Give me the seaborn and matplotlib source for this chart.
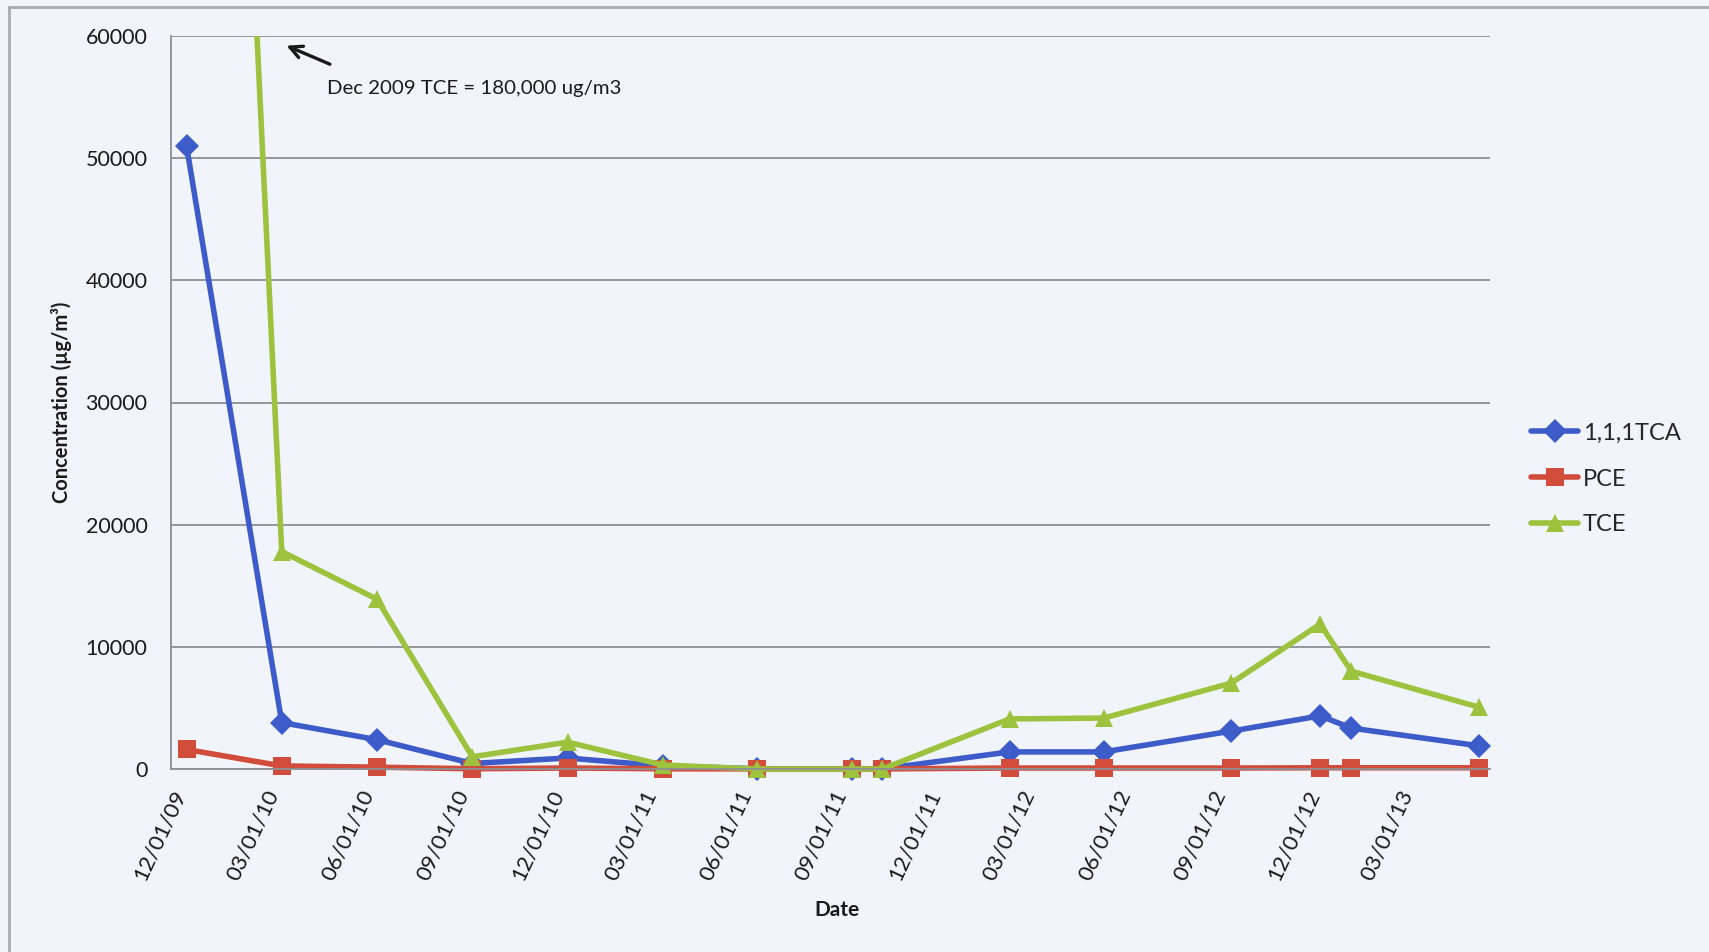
import matplotlib
matplotlib.use("Agg")
import matplotlib.pyplot as plt
import matplotlib.dates as mdates
from matplotlib.lines import Line2D
from matplotlib.patches import Rectangle
import numpy as np
import pandas as pd
import seaborn as sns

# Sampling dates and measured concentrations (ug/m3)
dates = ["2009-12-16", "2010-03-18", "2010-06-18", "2010-09-18", "2010-12-19",
         "2011-03-21", "2011-06-20", "2011-09-20", "2011-10-19", "2012-02-19",
         "2012-05-20", "2012-09-20", "2012-12-15", "2013-01-14", "2013-05-17"]
tca = [51000, 3800, 2400, 450, 900, 250, 20, 10, 10, 1400, 1400, 3100, 4350, 3350, 1900]
pce = [1600, 250, 150, 20, 80, 20, 10, 10, 10, 80, 80, 80, 100, 100, 100]
tce = [180000, 17800, 13900, 1000, 2200, 330, 0, 0, 0, 4100, 4170, 7030, 11860, 8010, 5070]

series_names = ["1,1,1TCA", "PCE", "TCE"]
series_values = [tca, pce, tce]
series_colors = ["#3d5cc9", "#d24c3b", "#9dc23d"]
series_markers = ["D", "s", "^"]
marker_sizes = [12, 13, 13]

y_ticks = [0, 10000, 20000, 30000, 40000, 50000, 60000]
annotation_text = "Dec 2009 TCE = 180,000 ug/m3"

sns.set_theme(style="white")
plt.rcParams["font.family"] = ["Lato", "DejaVu Sans"]

bg = "#f2f4fb"
fig = plt.figure(figsize=(17.09, 9.52), dpi=100, facecolor=bg)
ax = fig.add_axes([171 / 1709, 1 - 769 / 952, 1319 / 1709, 733 / 952])
ax.set_facecolor(bg)

frames = []
for name, vals in zip(series_names, series_values):
    frames.append(pd.DataFrame({"date": pd.to_datetime(dates), "value": vals, "series": name}))

for df, color, marker, ms in zip(frames, series_colors, series_markers, marker_sizes):
    sns.lineplot(data=df, x="date", y="value", ax=ax, color=color, linewidth=4,
                 marker=marker, markersize=ms, markeredgewidth=0, legend=False)

# Clip only at the top so markers sitting on the zero line stay whole
for line in ax.get_lines():
    line.set_clip_path(Rectangle((-0.05, -0.1), 1.1, 1.1, transform=ax.transAxes))

ax.set_ylim(0, 60000)
ax.set_xlim(pd.Timestamp("2009-12-01"), pd.Timestamp("2013-05-28"))
ax.set_yticks(y_ticks)
ax.set_yticklabels([str(v) for v in y_ticks])
ax.yaxis.grid(True, color="#8d8f94", linewidth=1.3)
ax.xaxis.grid(False)
ax.set_axisbelow(True)

ax.xaxis.set_major_locator(mdates.MonthLocator(bymonth=[3, 6, 9, 12], bymonthday=1))
ax.xaxis.set_major_formatter(mdates.DateFormatter("%m/%d/%y"))
ticks = [t for t in ax.get_xticks() if t <= mdates.date2num(pd.Timestamp("2013-03-01"))]
ax.set_xticks(ticks)

for side in ["top", "right"]:
    ax.spines[side].set_visible(False)
for side in ["left", "bottom"]:
    ax.spines[side].set_color("#8d8f94")
    ax.spines[side].set_linewidth(1.3)

ax.tick_params(axis="y", length=0, pad=17, labelsize=15.5, labelcolor="#1a1a1a")
ax.tick_params(axis="x", length=5, color="#8d8f94", direction="out", pad=8,
               labelsize=16, labelcolor="#1a1a1a")
for lab in ax.get_xticklabels():
    lab.set_rotation(65)
    lab.set_ha("right")
    lab.set_va("top")
    lab.set_rotation_mode("anchor")

ax.set_ylabel("Concentration (µg/m³)", fontsize=14.5, fontweight="bold",
              color="#1a1a1a", labelpad=10)
ax.set_xlabel("Date", fontsize=15, fontweight="bold", color="#1a1a1a")
ax.xaxis.set_label_coords((837 - 171) / 1319, (769 - 900) / 733)

# Off-scale first TCE result, noted with an arrow
ax.annotate("", xy=(pd.Timestamp("2010-03-20"), 59300),
            xytext=(pd.Timestamp("2010-05-06"), 57600),
            arrowprops=dict(arrowstyle="->", color="#1a1a1a", lw=2.4,
                            mutation_scale=22))
ax.text(pd.Timestamp("2010-05-01"), 55700, annotation_text, fontsize=14.7,
        color="#1a1a1a", ha="left", va="center")

handles = [Line2D([0], [0], color=c, lw=4, marker=m, markersize=s, markeredgewidth=0)
           for c, m, s in zip(series_colors, series_markers, marker_sizes)]
fig.legend(handles, series_names, loc="center left",
           bbox_to_anchor=(1531 / 1709, 1 - 479 / 952), bbox_transform=fig.transFigure,
           frameon=False, fontsize=17, handlelength=2.0, handletextpad=0.2,
           labelspacing=1.05, borderpad=0, borderaxespad=0)

# Outer chart frame
fig.add_artist(Line2D([9 / 1709, 9 / 1709], [0, 1 - 7 / 952], color="#a9abb0",
                      lw=2, transform=fig.transFigure))
fig.add_artist(Line2D([9 / 1709, 1], [1 - 7 / 952, 1 - 7 / 952], color="#a9abb0",
                      lw=2, transform=fig.transFigure))

fig.savefig("out.png", dpi=100, facecolor=bg)
